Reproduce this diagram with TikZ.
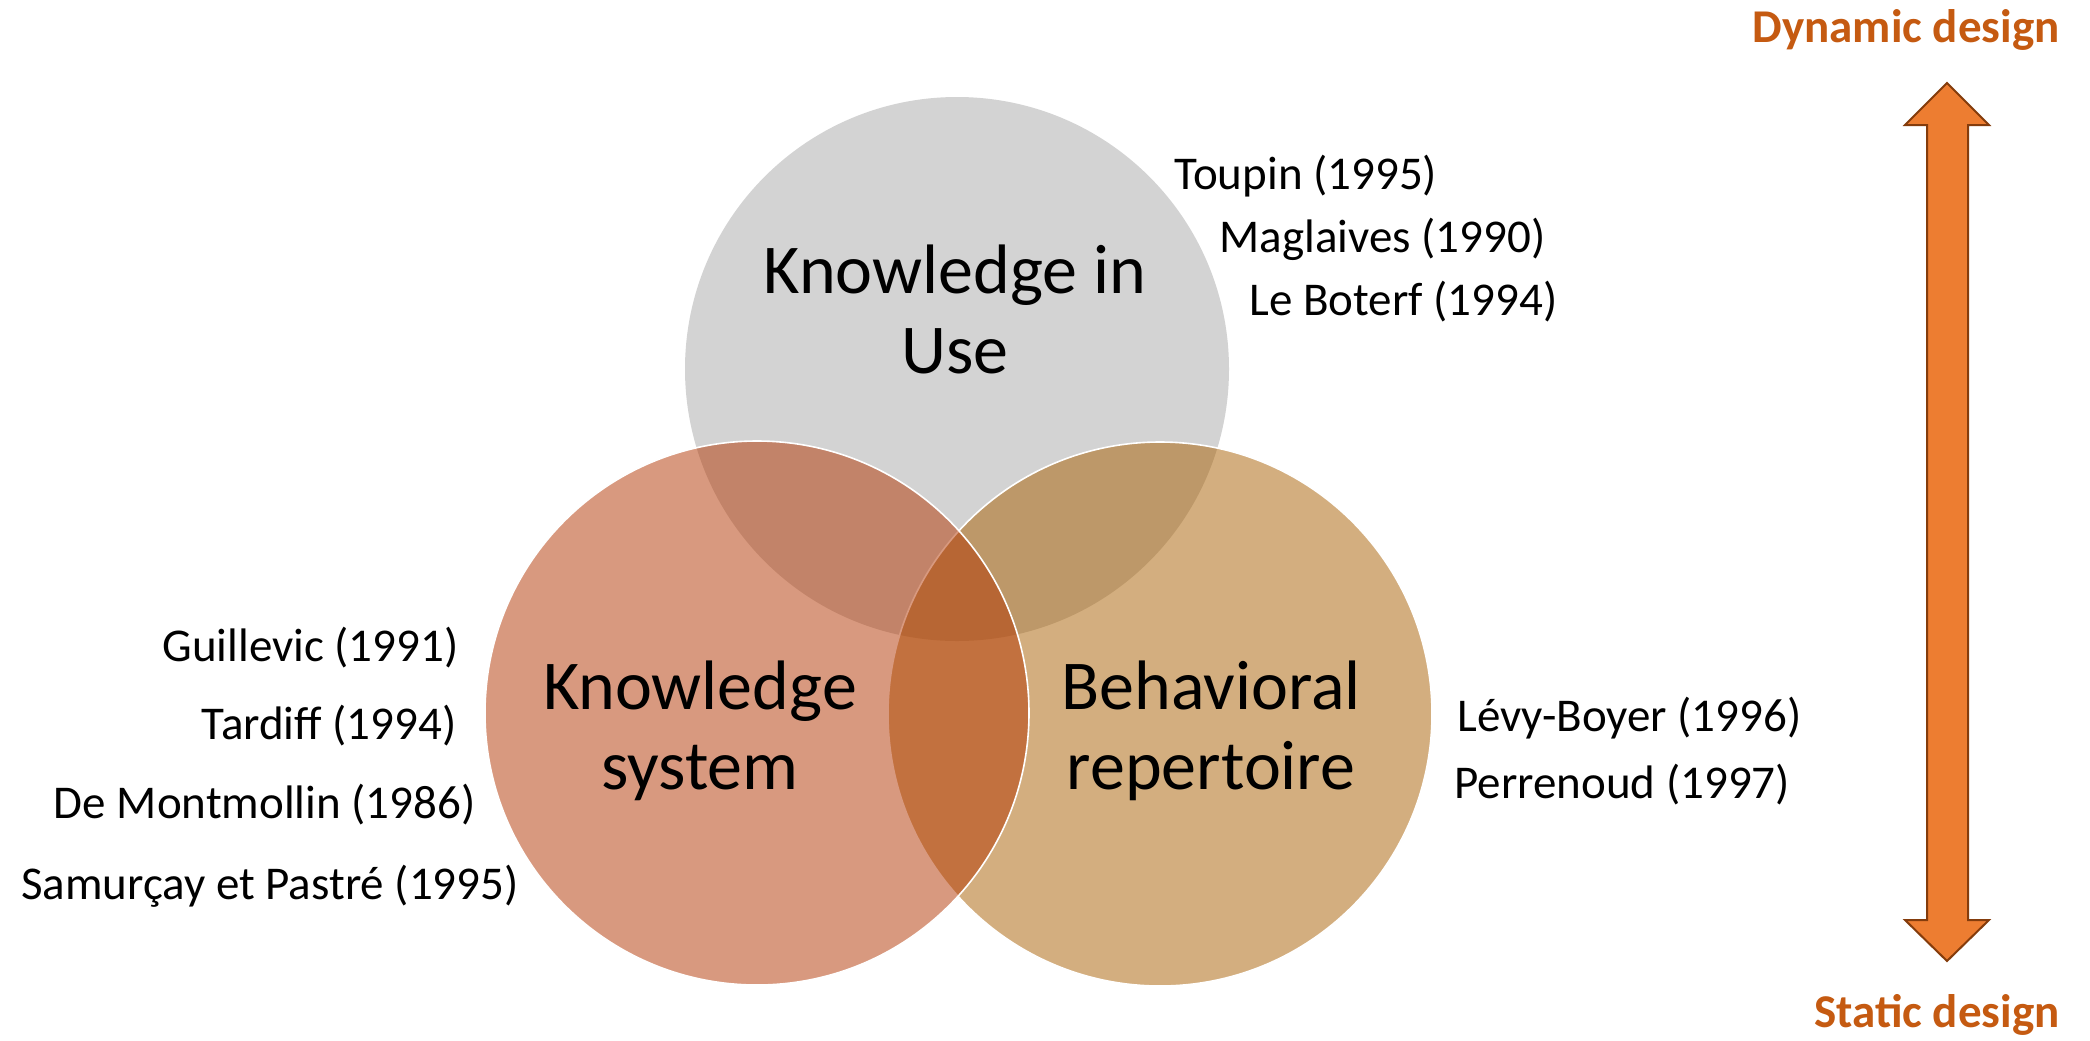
\documentclass[tikz,border=0pt]{standalone}
\usepackage{fontspec}
\setmainfont{Carlito}
\usetikzlibrary{positioning}
\definecolor{usegray}{HTML}{D3D3D3}
\definecolor{sysred}{RGB}{179,53,0}
\definecolor{behtan}{RGB}{169,95,0}
\definecolor{arroworange}{HTML}{ED7D31}
\definecolor{arrowedge}{HTML}{843C0C}
\definecolor{designorange}{HTML}{C55A11}
\tikzset{
    venn/.style={circle,minimum size=272pt,inner sep=0pt},
    overlap/.style={venn,fill opacity=0.5,draw=white,line width=0.8pt},
    setname/.style={align=center,inner sep=0pt,anchor=base,font=\fontsize{35}{40}\selectfont},
    author/.style={inner sep=0pt,font=\fontsize{23.5}{28}\selectfont},
    design/.style={inner sep=0pt,anchor=base east,text=designorange,font=\fontsize{23.5}{28}\selectfont\bfseries},
    blockarrow/.style={fill=arroworange,draw=arrowedge,line width=1pt,line join=miter}
}

\begin{document}
\begin{tikzpicture}[x=0.5pt,y=-0.5pt]
    \useasboundingbox[fill=white] (0,0) rectangle (2090,1040);

    \node[venn,fill=usegray] (inuse) at (957,369) {};
    \node[overlap,fill=behtan] (behav) at (1160,714) {};
    \node[overlap,fill=sysred] (system) at (757,713) {};

    \node[setname] (inuselbl) at (955,373) {Knowledge in\\Use};
    \node[setname] (systemlbl) at (700,789) {Knowledge\\system};
    \node[setname] (behavlbl) at (1211,789) {Behavioral\\repertoire};

    \node[author,anchor=base west] (toupin) at (1174,189) {Toupin (1995)};
    \node[author,anchor=base west] (maglaives) at (1219,252) {Maglaives (1990)};
    \node[author,anchor=base west] (boterf) at (1249,315) {Le Boterf (1994)};

    \node[author,anchor=base east] (guillevic) at (459,661) {Guillevic (1991)};
    \node[author,anchor=base east] (tardiff) at (457,739) {Tardiff (1994)};
    \node[author,anchor=base east] (montmollin) at (476,818) {De Montmollin (1986)};
    \node[author,anchor=base east] (samurcay) at (519,899) {Samurçay et Pastré (1995)};

    \node[author,anchor=base west] (levy) at (1457,731) {Lévy-Boyer (1996)};
    \node[author,anchor=base west] (perrenoud) at (1454,798) {Perrenoud (1997)};

    \node[design] (dynamic) at (2060,42) {Dynamic design};
    \node[design] (static) at (2060,1027) {Static design};

    \draw[blockarrow] (1947,83) -- (1989,125) -- (1968,125) -- (1968,920) -- (1989,920)
        -- (1947,961) -- (1905,920) -- (1927,920) -- (1927,125) -- (1905,125) -- cycle;
\end{tikzpicture}
\end{document}
